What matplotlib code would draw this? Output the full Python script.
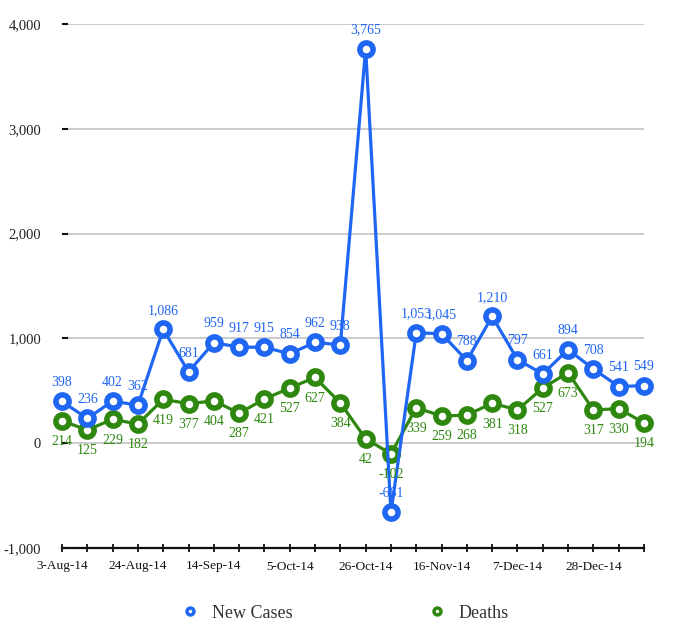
import matplotlib
matplotlib.use('Agg')
import matplotlib.pyplot as plt
from matplotlib.lines import Line2D
from matplotlib.ticker import FuncFormatter

weeks = ['3-Aug-14', '10-Aug-14', '17-Aug-14', '24-Aug-14', '31-Aug-14', '7-Sep-14',
         '14-Sep-14', '21-Sep-14', '28-Sep-14', '5-Oct-14', '12-Oct-14', '19-Oct-14',
         '26-Oct-14', '2-Nov-14', '9-Nov-14', '16-Nov-14', '23-Nov-14', '30-Nov-14',
         '7-Dec-14', '14-Dec-14', '21-Dec-14', '28-Dec-14', '4-Jan-15', '11-Jan-15']
new_cases = [398, 236, 402, 362, 1086, 681, 959, 917, 915, 854, 962, 938,
             3765, -661, 1053, 1045, 788, 1210, 797, 661, 894, 708, 541, 549]
deaths = [214, 125, 229, 182, 419, 377, 404, 287, 421, 527, 627, 384,
          42, -102, 339, 259, 268, 381, 318, 527, 673, 317, 330, 194]
y_ticks = [-1000, 0, 1000, 2000, 3000, 4000]

blue = '#1f66f2'
green = '#2e870f'
plt.rcParams['font.family'] = ['Liberation Serif', 'DejaVu Serif']

fig = plt.figure(figsize=(6.83, 6.43), dpi=100)
ax = fig.add_axes([62 / 683, 1 - 548 / 643, (644 - 62) / 683, (548 - 24) / 643])

x = list(range(len(weeks)))
style = dict(marker='o', markersize=9.5, markeredgewidth=4, markerfacecolor='white',
             linewidth=2.3, clip_on=False, zorder=3)
ax.plot(x, deaths, color=green, markeredgecolor=green, **style)
ax.plot(x, new_cases, color=blue, markeredgecolor=blue, **style)

for i in x:
    ax.annotate(f'{new_cases[i]:,}', (i, new_cases[i]), xytext=(0, 13.5),
                textcoords='offset points', ha='center', va='center',
                color=blue, fontsize=10, zorder=5)
    ax.annotate(f'{deaths[i]:,}', (i, deaths[i]), xytext=(0, -15),
                textcoords='offset points', ha='center', va='center',
                color=green, fontsize=10, zorder=5)

ax.set_xlim(0, len(weeks) - 1)
ax.set_ylim(-1000, 4000)
ax.set_yticks(y_ticks)
ax.yaxis.set_major_formatter(FuncFormatter(lambda v, p: f'{v:,.0f}'))
ax.set_xticks(x)
ax.set_xticklabels([w if i % 3 == 0 else '' for i, w in enumerate(weeks)])

for v in y_ticks[1:]:
    ax.axhline(v, color='#bdbdbd', linewidth=1.1, zorder=1)

for s in ['left', 'right', 'top']:
    ax.spines[s].set_visible(False)
ax.spines['bottom'].set_linewidth(1.6)
ax.spines['bottom'].set_color('#111111')

ax.tick_params(axis='y', direction='in', length=4, width=1.5, color='#111111',
               pad=15, labelsize=10.5, labelcolor='#222222')
ax.tick_params(axis='x', direction='inout', length=6, width=1.3, color='#111111',
               pad=6, labelsize=9.5, labelcolor='#111111')

handles = [
    Line2D([], [], color=blue, marker='o', linestyle='none', markersize=5,
           markeredgewidth=2.5, markerfacecolor='white', label='New Cases'),
    Line2D([], [], color=green, marker='o', linestyle='none', markersize=5,
           markeredgewidth=2.5, markerfacecolor='white', label='Deaths'),
]
fig.legend(handles=handles, loc='center', bbox_to_anchor=(0.505, 1 - 613 / 643),
           ncol=2, frameon=False, fontsize=13, handlelength=1, handletextpad=0.7,
           columnspacing=7.5, labelcolor='#333333')

fig.savefig('out.png', dpi=100)
